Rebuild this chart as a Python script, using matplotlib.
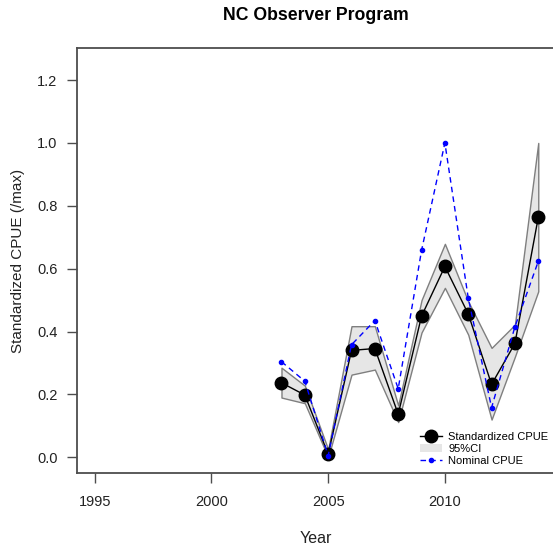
import matplotlib
matplotlib.use("Agg")
import matplotlib.pyplot as plt
from matplotlib.patches import Patch
from matplotlib.lines import Line2D

plt.rcParams['font.family'] = ['Liberation Sans', 'DejaVu Sans']

years = [2003, 2004, 2005, 2006, 2007, 2008, 2009, 2010, 2011, 2012, 2013, 2014]
std_cpue = [0.237, 0.198, 0.010, 0.340, 0.346, 0.137, 0.449, 0.607, 0.456, 0.232, 0.362, 0.763]
ci_upper = [0.285, 0.228, 0.025, 0.417, 0.417, 0.165, 0.500, 0.679, 0.496, 0.348, 0.422, 1.000]
ci_lower = [0.190, 0.172, 0.000, 0.263, 0.279, 0.112, 0.397, 0.539, 0.390, 0.120, 0.320, 0.528]
nominal = [0.304, 0.242, 0.005, 0.358, 0.435, 0.218, 0.658, 1.000, 0.507, 0.158, 0.415, 0.623]
xticks = [1995, 2000, 2005, 2010]
yticks = [0.0, 0.2, 0.4, 0.6, 0.8, 1.0, 1.2]

fig = plt.figure(figsize=(5.53, 5.50), dpi=100)
L, R, B, T = 77, 556, 473, 48
ax = fig.add_axes([L/553, 1-B/550, (R-L)/553, (B-T)/550])

axis_col = '#4d4d4d'
ax.fill_between(years, ci_lower, ci_upper, facecolor='#e6e6e6', edgecolor='#7f7f7f', linewidth=1.0, zorder=1)
ax.plot(years, std_cpue, color='black', linewidth=1.0, marker='o', markersize=9, zorder=3)
ax.plot(years, nominal, color='blue', linewidth=1.0, linestyle=(0, (4, 3)), marker='o', markersize=3, zorder=4)

ax.set_xlim(1994.24, 2014.76)
ax.set_ylim(-0.05, 1.302)
ax.set_xticks(xticks)
ax.set_xticklabels([str(x) for x in xticks])
ax.set_yticks(yticks)
ax.set_yticklabels([f"{y:.1f}" for y in yticks])

for s in ax.spines.values():
    s.set_color(axis_col)
    s.set_linewidth(1.3)
ax.tick_params(axis='both', direction='out', length=7, width=1.0, color=axis_col,
               labelsize=10.5, labelcolor='#222222')
ax.tick_params(axis='x', pad=9)
ax.tick_params(axis='y', pad=7)

ax.set_title('NC Observer Program', fontsize=12.7, fontweight='bold', pad=20, x=(316-L)/(R-L))
ax.set_xlabel('Year', fontsize=11.5, color='#222222')
ax.xaxis.set_label_coords((316-L)/(R-L), -(531-B)/(B-T))
ax.set_ylabel('Standardized CPUE (/max)', fontsize=11, color='#222222')
ax.yaxis.set_label_coords(-(L-25)/(R-L), 0.5)

handles = [
    Line2D([], [], color='black', linewidth=1.0, marker='o', markersize=9),
    Patch(facecolor='#e6e6e6', edgecolor='none'),
    Line2D([], [], color='blue', linewidth=1.0, linestyle=(0, (4, 3)), marker='o', markersize=3),
]
labels = ['Standardized CPUE', '95%CI', 'Nominal CPUE']
leg = ax.legend(handles, labels, loc='upper left', bbox_to_anchor=(414/553, 1-426/550),
                bbox_transform=fig.transFigure, frameon=False, fontsize=8,
                handlelength=2.0, handletextpad=0.6, labelspacing=0.2, borderpad=0.0)

fig.savefig('out.png', dpi=100)
